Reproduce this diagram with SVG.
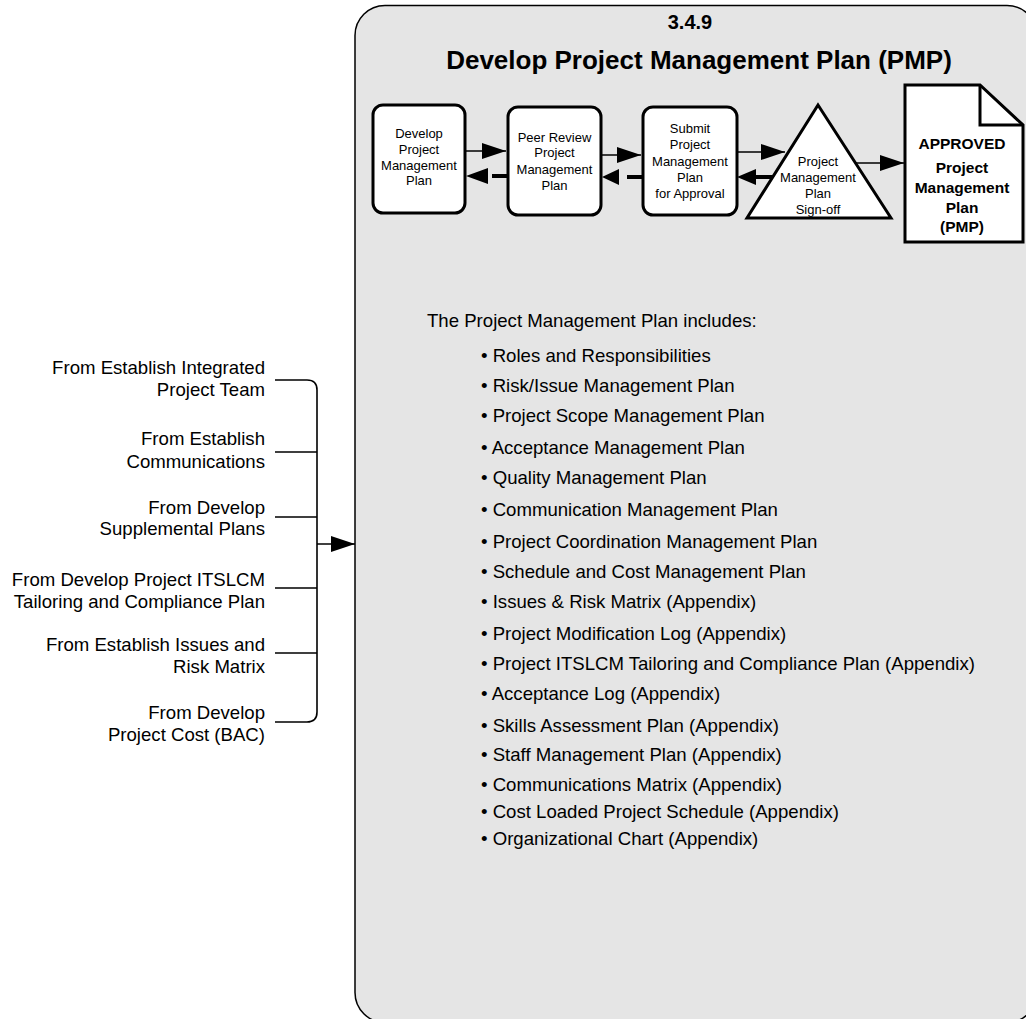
<svg xmlns="http://www.w3.org/2000/svg" width="1026" height="1019" viewBox="0 0 1026 1019">
  <style>
    text { font-family: "Liberation Sans", Arial, sans-serif; fill: #000; }
    .title { font-weight: bold; text-anchor: middle; }
    .step { fill: #fff; stroke: #000; stroke-width: 3; }
    .stxt { font-size: 13px; text-anchor: middle; }
    .doc { font-size: 15.5px; font-weight: bold; text-anchor: middle; }
    .body { font-size: 18.6px; }
    .lbl { font-size: 18.6px; text-anchor: end; }
    .fwd { stroke: #000; stroke-width: 1.6; fill: none; }
    .back { stroke: #000; stroke-width: 4; fill: none; }
    .head { fill: #000; stroke: none; }
    .wire { stroke: #000; stroke-width: 1.6; fill: none; }
  </style>
  <defs>
    <marker id="arrow" markerUnits="userSpaceOnUse" markerWidth="26" markerHeight="18" refX="24" refY="8" orient="auto">
      <path d="M0,0 L24,8 L0,16 Z" fill="#000"/>
    </marker>
  </defs>

  <rect width="1026" height="1019" fill="#fff"/>

  <!-- Process container -->
  <g id="process-3-4-9">
    <rect x="355" y="5.5" width="682" height="1017" rx="30" ry="30" fill="#e5e5e5" stroke="#000" stroke-width="1.5"/>
    <text class="title" x="690" y="29" font-size="20">3.4.9</text>
    <text class="title" x="699" y="69" font-size="26">Develop Project Management Plan (PMP)</text>
  </g>

  <!-- Steps -->
  <g id="step-develop">
    <rect class="step" x="373" y="105" width="92" height="108" rx="10"/>
    <text class="stxt" x="419" y="137.5">Develop</text>
    <text class="stxt" x="419" y="153.5">Project</text>
    <text class="stxt" x="419" y="169.5">Management</text>
    <text class="stxt" x="419" y="184.5">Plan</text>
  </g>
  <g id="step-peer-review">
    <rect class="step" x="508" y="107" width="93" height="108" rx="10"/>
    <text class="stxt" x="554.5" y="141.5">Peer Review</text>
    <text class="stxt" x="554.5" y="157">Project</text>
    <text class="stxt" x="554.5" y="173.5">Management</text>
    <text class="stxt" x="554.5" y="189.5">Plan</text>
  </g>
  <g id="step-submit">
    <rect class="step" x="643" y="107" width="94" height="108" rx="10"/>
    <text class="stxt" x="690" y="132.5">Submit</text>
    <text class="stxt" x="690" y="148.5">Project</text>
    <text class="stxt" x="690" y="165.5">Management</text>
    <text class="stxt" x="690" y="181.5">Plan</text>
    <text class="stxt" x="690" y="197.5">for Approval</text>
  </g>
  <g id="step-signoff">
    <polygon class="step" points="818,105 891,218 747,218" stroke-width="2.5" stroke-linejoin="miter"/>
    <text class="stxt" x="818" y="165.5">Project</text>
    <text class="stxt" x="818" y="181.5">Management</text>
    <text class="stxt" x="818" y="197.5">Plan</text>
    <text class="stxt" x="818" y="213.5">Sign-off</text>
  </g>
  <g id="approved-pmp">
    <path class="step" d="M905,85 L980,85 L1023,125 L1023,242 L905,242 Z"/>
    <path d="M980,85 L980,125 L1023,125" fill="none" stroke="#000" stroke-width="3"/>
    <text class="doc" x="962" y="148.5">APPROVED</text>
    <text class="doc" x="962" y="172.5">Project</text>
    <text class="doc" x="962" y="192.5">Management</text>
    <text class="doc" x="962" y="212.5">Plan</text>
    <text class="doc" x="962" y="231.5">(PMP)</text>
  </g>

  <!-- Contents list -->
  <g id="pmp-contents" class="body">
    <text x="427" y="327">The Project Management Plan includes:</text>
    <text x="481" y="362">• Roles and Responsibilities</text>
    <text x="481" y="392">• Risk/Issue Management Plan</text>
    <text x="481" y="422">• Project Scope Management Plan</text>
    <text x="481" y="454">• Acceptance Management Plan</text>
    <text x="481" y="484">• Quality Management Plan</text>
    <text x="481" y="516">• Communication Management Plan</text>
    <text x="481" y="548">• Project Coordination Management Plan</text>
    <text x="481" y="578">• Schedule and Cost Management Plan</text>
    <text x="481" y="608">• Issues &amp; Risk Matrix (Appendix)</text>
    <text x="481" y="640">• Project Modification Log (Appendix)</text>
    <text x="481" y="670">• Project ITSLCM Tailoring and Compliance Plan (Appendix)</text>
    <text x="481" y="700">• Acceptance Log (Appendix)</text>
    <text x="481" y="732">• Skills Assessment Plan (Appendix)</text>
    <text x="481" y="761">• Staff Management Plan (Appendix)</text>
    <text x="481" y="791">• Communications Matrix (Appendix)</text>
    <text x="481" y="818">• Cost Loaded Project Schedule (Appendix)</text>
    <text x="481" y="845">• Organizational Chart (Appendix)</text>
  </g>

  <!-- Inputs -->
  <g id="inputs">
    <text class="lbl" x="265" y="374">From Establish Integrated</text>
    <text class="lbl" x="265" y="396">Project Team</text>
    <text class="lbl" x="265" y="445">From Establish</text>
    <text class="lbl" x="265" y="468">Communications</text>
    <text class="lbl" x="265" y="514">From Develop</text>
    <text class="lbl" x="265" y="535">Supplemental Plans</text>
    <text class="lbl" x="265" y="586">From Develop Project ITSLCM</text>
    <text class="lbl" x="265" y="608">Tailoring and Compliance Plan</text>
    <text class="lbl" x="265" y="651">From Establish Issues and</text>
    <text class="lbl" x="265" y="673">Risk Matrix</text>
    <text class="lbl" x="265" y="719">From Develop</text>
    <text class="lbl" x="265" y="741">Project Cost (BAC)</text>
  </g>

  <!-- Connectors -->
  <g id="connectors">
    <path class="wire" d="M275,380 L307,380 Q317,380 317,390 L317,712 Q317,722 307,722 L275,722"/>
    <path class="wire" d="M275,452 L317,452 M275,517 L317,517 M275,588 L317,588 M275,653 L317,653"/>
    <path class="wire" d="M317,544 L355,544" marker-end="url(#arrow)"/>

    <path class="fwd" d="M465,151 L506,151" marker-end="url(#arrow)"/>
    <path class="fwd" d="M601,155 L641,155" marker-end="url(#arrow)"/>
    <path class="fwd" d="M737,152 L785,152" marker-end="url(#arrow)"/>
    <path class="fwd" d="M856,163 L904,163" marker-end="url(#arrow)"/>

    <path class="back" d="M492,176 L508,176"/>
    <polygon class="head" points="466,176 488,168 488,184"/>
    <path class="back" d="M627,177 L643,177"/>
    <polygon class="head" points="602,177 619,169 619,185"/>
    <path class="back" d="M754,177 L773,177"/>
    <polygon class="head" points="737,177 756,169 756,185"/>
  </g>
</svg>
